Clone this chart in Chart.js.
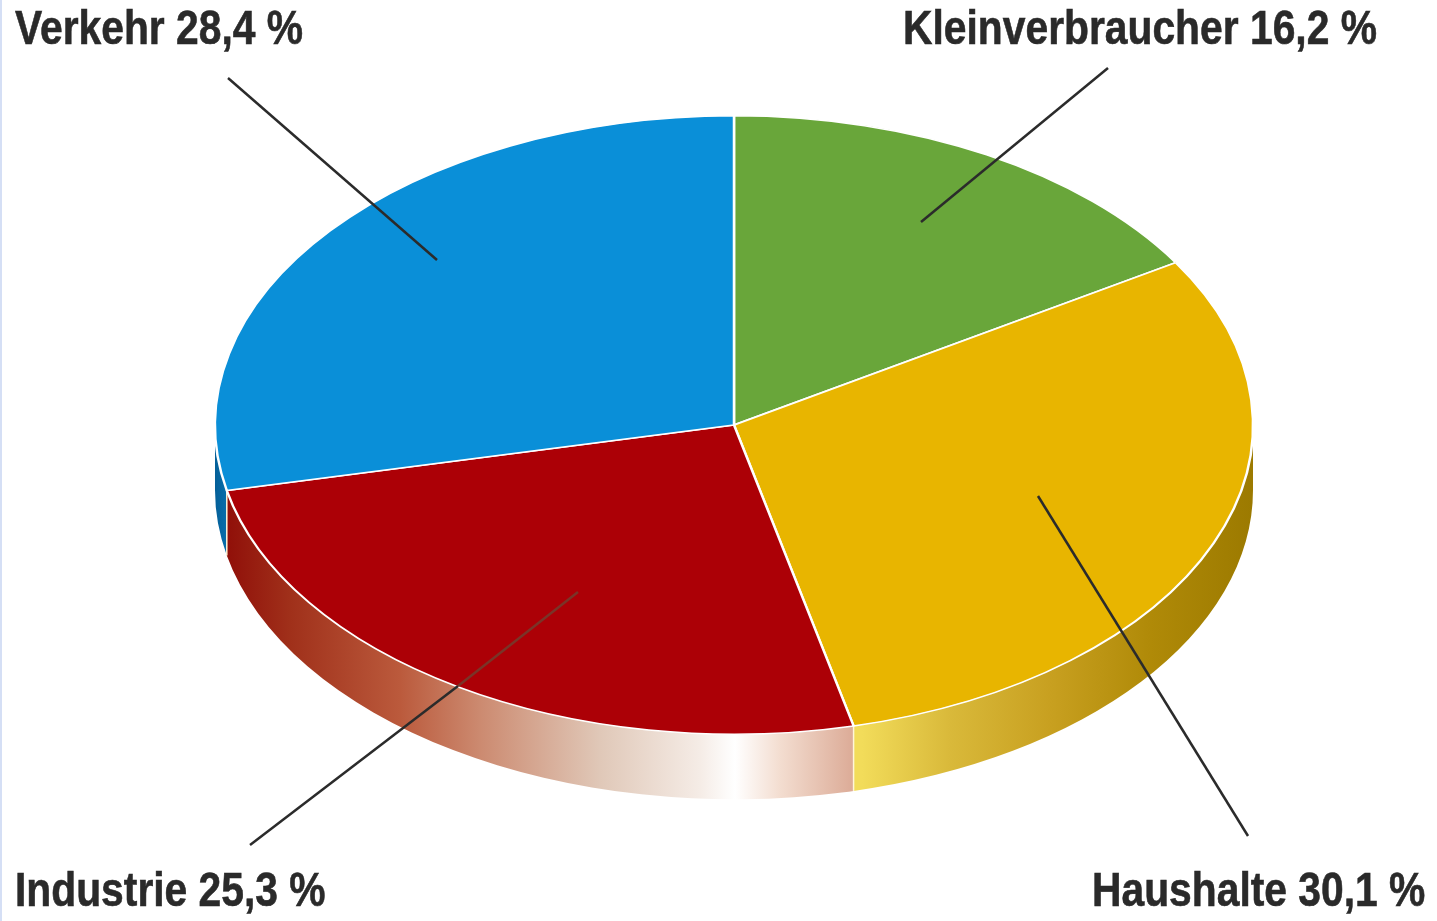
<!DOCTYPE html>
<html lang="de">
<head>
<meta charset="utf-8">
<title>Energieverbrauch nach Sektoren</title>
<script src="https://cdn.jsdelivr.net/npm/chart.js@4"></script>
<style>
    html, body { margin: 0; padding: 0; background: #fff; overflow: hidden; }
    #stage { position: relative; width: 1437px; height: 921px; overflow: hidden; }
    #pie { position: absolute; left: 0; top: 0; filter: blur(0.6px); }
    #edge { position: absolute; left: 0; top: 0; width: 2px; height: 921px; background: #d5dff5; }
    .label {
        position: absolute;
        font: bold 48px "Liberation Sans", sans-serif;
        color: #2a2a2a;
        white-space: nowrap;
        transform: scaleX(0.85);
        transform-origin: left top;
        -webkit-text-stroke: 0.6px #2a2a2a;
        filter: blur(0.6px);
    }
</style>
</head>
<body>
<div id="stage">
    <canvas id="pie" width="1437" height="921"></canvas>
    <div id="edge"></div>
</div>
<script>
const categories = ['Kleinverbraucher', 'Haushalte', 'Industrie', 'Verkehr'];
const shares = [16.2, 30.1, 25.3, 28.4];
const sliceColors = ['#69a63a', '#e8b500', '#ac0006', '#0a8fd8'];

// label boxes and leader lines around the pie
const labelSpots = [
    { left: 903, top: 0 },
    { left: 1092, top: 862 },
    { left: 15, top: 862 },
    { left: 15, top: 0 }
];
const leaderLines = [
    { from: [1108, 68], to: [921, 222], color: '#2b2b2b' },
    { from: [1248, 836], to: [1038, 496], color: '#2b2b2b' },
    { from: [250, 845], to: [458, 686], color: '#2b2b2b' },
    { from: [458, 686], to: [578, 592], color: '#7a3428' },
    { from: [228, 78], to: [437, 260], color: '#2b2b2b' }
];

const halfWidth = 519;
const wallDepth = 65;

// side wall shading, offsets are pixels across the canvas
const wallShades = [
    null,
    [[862, '#f2dc5a'], [950, '#d9b93a'], [1050, '#c8a020'], [1150, '#b08a08'], [1252, '#9c7a00']],
    [[217, '#8e0a06'], [290, '#a0301a'], [400, '#bb5a3c'], [480, '#cc8a70'], [600, '#e0c8b8'], [700, '#f5ece6'], [735, '#ffffff'], [780, '#f3ddd0'], [862, '#d9a590']],
    [[215, '#045f98'], [235, '#0a78b8']]
];

const squash = (chart) => {
    const arc = chart.getDatasetMeta(0).data[0];
    return { cx: arc.x, cy: arc.y, ry: arc.outerRadius, k: halfWidth / arc.outerRadius };
};

const pieBody = {
    id: 'pieBody',
    beforeDatasetsDraw(chart) {
        const { ctx } = chart;
        const { cx, cy, ry, k } = squash(chart);

        chart.getDatasetMeta(0).data.forEach((arc, i) => {
            const shade = wallShades[i];
            if (!shade) return;
            const from = Math.max(arc.startAngle, 0);
            const to = Math.min(arc.endAngle, Math.PI);
            if (to <= from) return;

            const fill = ctx.createLinearGradient(0, 0, chart.width, 0);
            shade.forEach(([x, color]) => fill.addColorStop(x / chart.width, color));

            ctx.save();
            ctx.beginPath();
            ctx.ellipse(cx, cy, halfWidth, ry, 0, from, to);
            ctx.ellipse(cx, cy + wallDepth, halfWidth, ry, 0, to, from, true);
            ctx.closePath();
            ctx.fillStyle = fill;
            ctx.fill();

            // thin seam where the wall changes colour
            if (arc.startAngle > 0 && arc.startAngle < Math.PI) {
                const sx = cx + halfWidth * Math.cos(arc.startAngle);
                const sy = cy + ry * Math.sin(arc.startAngle);
                ctx.beginPath();
                ctx.moveTo(sx, sy);
                ctx.lineTo(sx, sy + wallDepth);
                ctx.strokeStyle = '#fff6d8';
                ctx.lineWidth = 1.5;
                ctx.stroke();
            }
            ctx.restore();
        });

        // Chart.js only draws circles, so the top face is stretched sideways
        ctx.save();
        ctx.translate(cx, 0);
        ctx.scale(k, 1);
        ctx.translate(-cx, 0);
    },
    afterDatasetsDraw(chart) {
        const { ctx } = chart;
        ctx.restore();

        ctx.save();
        ctx.lineWidth = 2.5;
        leaderLines.forEach((line) => {
            ctx.beginPath();
            ctx.moveTo(line.from[0], line.from[1]);
            ctx.lineTo(line.to[0], line.to[1]);
            ctx.strokeStyle = line.color;
            ctx.stroke();
        });
        ctx.restore();
    }
};

new Chart(document.getElementById('pie'), {
    type: 'pie',
    data: {
        labels: categories,
        datasets: [{
            data: shares,
            backgroundColor: sliceColors,
            borderColor: '#ffffff',
            borderWidth: 1.5,
            clip: false
        }]
    },
    options: {
        responsive: false,
        animation: false,
        events: [],
        layout: { padding: { left: 31, top: 115, bottom: 186 } },
        plugins: { legend: { display: false }, tooltip: { enabled: false } }
    },
    plugins: [pieBody]
});

const stage = document.getElementById('stage');
categories.forEach((name, i) => {
    const label = document.createElement('div');
    label.className = 'label';
    label.textContent = `${name} ${shares[i].toLocaleString('de-DE', { minimumFractionDigits: 1 })} %`;
    label.style.left = labelSpots[i].left + 'px';
    label.style.top = labelSpots[i].top + 'px';
    stage.appendChild(label);
});
</script>
</body>
</html>
